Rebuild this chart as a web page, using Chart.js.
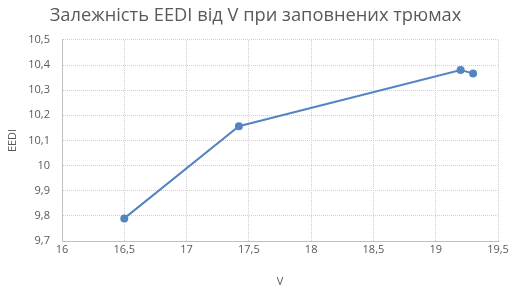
<!DOCTYPE html>
<html>
<head>
<meta charset="utf-8">
<script src="https://cdn.jsdelivr.net/npm/chart.js@4"></script>
<style>
  html, body { margin: 0; padding: 0; background: #fff; }
  canvas { display: block; }
</style>
</head>
<body>
<canvas id="chart" width="515" height="292"></canvas>
<script>
  const speedV = [16.5, 17.42, 19.2, 19.3];
  const eediValues = [9.79, 10.157, 10.38, 10.367];
  const titleText = 'Залежність EEDI від V при заповнених трюмах';

  const lineColor = '#5585c0';
  const textColor = '#595959';
  const fontFamily = '"Open Sans", "Noto Sans", sans-serif';

  // comma decimal separator, as in the source chart
  const fmt = v => String(Math.round(v * 10) / 10).replace('.', ',');

  const points = speedV.map((x, i) => ({ x, y: eediValues[i] }));

  new Chart(document.getElementById('chart').getContext('2d'), {
    type: 'scatter',
    data: {
      datasets: [{
        data: points,
        showLine: true,
        borderColor: lineColor,
        backgroundColor: lineColor,
        borderWidth: 2,
        pointRadius: 3,
        pointHoverRadius: 3,
        tension: 0
      }]
    },
    options: {
      responsive: false,
      animation: false,
      layout: { padding: { left: 13, right: 17, top: 0, bottom: 0 } },
      plugins: {
        legend: { display: false },
        tooltip: { enabled: false },
        title: {
          display: true,
          text: titleText,
          color: textColor,
          font: { family: fontFamily, size: 18.3, weight: 'normal' },
          padding: { top: 5, bottom: 13 }
        }
      },
      scales: {
        x: {
          type: 'linear',
          min: 16,
          max: 19.5,
          ticks: {
            stepSize: 0.5,
            color: textColor,
            padding: 2,
            font: { family: fontFamily, size: 11 },
            callback: v => fmt(v)
          },
          grid: { color: '#d0d0d0', drawTicks: false },
          border: { color: '#bfbfbf', dash: [1, 1] },
          title: {
            display: true,
            text: 'V',
            color: textColor,
            font: { family: fontFamily, size: 11 },
            padding: { top: 12 }
          },
          afterFit: s => { s.height = 51; }
        },
        y: {
          min: 9.7,
          max: 10.5,
          ticks: {
            stepSize: 0.1,
            color: textColor,
            padding: 12,
            font: { family: fontFamily, size: 11 },
            callback: v => fmt(v)
          },
          grid: { color: '#d0d0d0', drawTicks: false },
          border: { color: '#bfbfbf', dash: [1, 1] },
          title: {
            display: true,
            text: 'EEDI',
            color: textColor,
            font: { family: fontFamily, size: 11 },
            padding: { top: -7, bottom: 4 }
          },
          afterFit: s => { s.width = 49; }
        }
      }
    }
  });
</script>
</body>
</html>
